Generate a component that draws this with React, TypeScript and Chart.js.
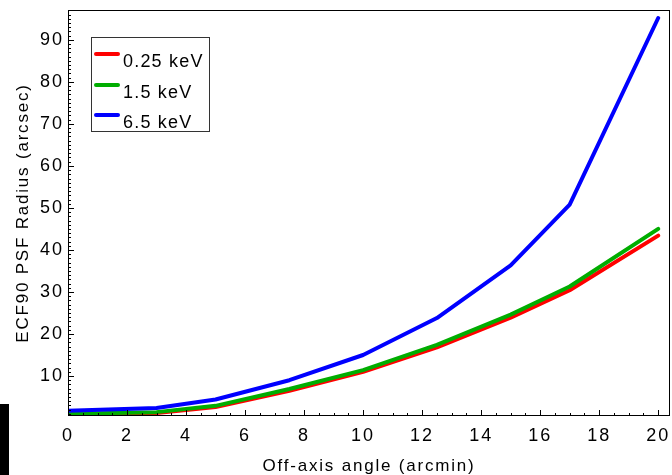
import { useEffect, useRef } from "react";
import { Chart, registerables } from "chart.js";

Chart.register(...registerables);

// ---- data ----
const offAxisAngles = [0, 3, 5, 7.5, 10, 12.5, 15, 17, 20];
const radius025keV = [0.8, 1.2, 2.6, 6.5, 11.0, 16.8, 23.9, 30.4, 43.4];
const radius15keV = [1.0, 1.4, 2.9, 6.9, 11.4, 17.4, 24.6, 31.3, 45.0];
const radius65keV = [1.7, 2.4, 4.4, 9.0, 15.0, 23.8, 36.3, 50.8, 95.2];

const seriesLabels = ["0.25 keV", "1.5 keV", "6.5 keV"];
const seriesColors = ["#ff0000", "#00ad00", "#0000ff"];

const xTickValues = [0, 2, 4, 6, 8, 10, 12, 14, 16, 18, 20];
const yTickValues = [10, 20, 30, 40, 50, 60, 70, 80, 90];

const xTitle = "Off-axis angle (arcmin)";
const yTitle = "ECF90 PSF Radius (arcsec)";

const FONT = '"Liberation Sans", Arial, sans-serif';

const zeroPad = (s: any) => {
  s.paddingTop = 0;
  s.paddingBottom = 0;
  s.paddingLeft = 0;
  s.paddingRight = 0;
};

const decorPlugin = {
  id: "decor",
  beforeDraw(chart: any) {
    (chart.ctx as any).letterSpacing = "2px";
  },
  afterDraw(chart: any) {
    const ctx = chart.ctx as CanvasRenderingContext2D & { letterSpacing: string };
    const a = chart.chartArea;
    const xs = chart.scales.x;
    const ys = chart.scales.y;
    ctx.save();
    // frame
    ctx.strokeStyle = "#000";
    ctx.lineWidth = 1;
    ctx.strokeRect(a.left + 0.5, a.top + 0.5, a.right - a.left - 1, a.bottom - a.top - 1);
    // ticks (inward)
    ctx.beginPath();
    for (let i = 0; i * 0.5 <= xs.max; i++) {
      const v = i * 0.5;
      const px = Math.round(xs.getPixelForValue(v)) + 0.5;
      const len = i % 4 === 0 ? 6 : 3;
      ctx.moveTo(px, a.bottom);
      ctx.lineTo(px, a.bottom - len);
    }
    for (let v = 1; v <= ys.max; v++) {
      const py = Math.round(ys.getPixelForValue(v)) + 0.5;
      const len = v % 10 === 0 ? 6 : 3;
      ctx.moveTo(a.left, py);
      ctx.lineTo(a.left + len, py);
    }
    ctx.stroke();
    // axis titles
    ctx.fillStyle = "#000";
    ctx.font = `17px ${FONT}`;
    ctx.letterSpacing = "1.8px";
    ctx.textAlign = "center";
    ctx.textBaseline = "middle";
    ctx.fillText(xTitle, (a.left + a.right) / 2, 466);
    ctx.save();
    ctx.translate(23, (a.top + a.bottom) / 2);
    ctx.rotate(-Math.PI / 2);
    ctx.fillText(yTitle, 0, 0);
    ctx.restore();
    // legend
    ctx.strokeStyle = "#333";
    ctx.lineWidth = 1;
    ctx.strokeRect(91.5, 37.5, 118, 94);
    const rowY = [54, 85, 115];
    ctx.font = `18px ${FONT}`;
    ctx.letterSpacing = "1.2px";
    ctx.textAlign = "left";
    ctx.textBaseline = "alphabetic";
    seriesLabels.forEach((lab, i) => {
      ctx.strokeStyle = seriesColors[i];
      ctx.lineWidth = 4;
      ctx.lineCap = "round";
      ctx.beginPath();
      ctx.moveTo(96, rowY[i]);
      ctx.lineTo(118, rowY[i]);
      ctx.stroke();
      ctx.fillStyle = "#000";
      ctx.fillText(lab, 123, rowY[i] + 13);
    });
    ctx.restore();
    ctx.letterSpacing = "0px";
  },
};

export default function App() {
  const ref = useRef<HTMLCanvasElement | null>(null);
  useEffect(() => {
    if (!ref.current) return;
    const series = [radius025keV, radius15keV, radius65keV];
    const chart = new Chart(ref.current, {
      type: "line",
      data: {
        datasets: series.map((vals, i) => ({
          label: seriesLabels[i],
          data: offAxisAngles.map((x, j) => ({ x, y: vals[j] })),
          borderColor: seriesColors[i],
          backgroundColor: seriesColors[i],
          borderWidth: 4,
          pointRadius: 0,
          tension: 0,
          borderCapStyle: "round",
          borderJoinStyle: "round",
          order: 2 - i,
        })),
      },
      options: {
        responsive: false,
        animation: false,
        events: [],
        layout: { padding: { left: 0, right: 2, top: 10, bottom: 0 } },
        plugins: { legend: { display: false }, tooltip: { enabled: false } },
        scales: {
          x: {
            type: "linear",
            min: 0,
            max: 20.4,
            grid: { display: false, drawTicks: false },
            border: { display: false },
            afterBuildTicks: (s: any) => {
              s.ticks = xTickValues.map((value) => ({ value }));
            },
            afterFit: (s: any) => {
              s.height = 59;
              zeroPad(s);
            },
            ticks: {
              autoSkip: false,
              maxRotation: 0,
              padding: 9,
              color: "#000",
              font: { family: FONT, size: 18 },
            },
          },
          y: {
            type: "linear",
            min: 0.48,
            max: 97.1,
            grid: { display: false, drawTicks: false },
            border: { display: false },
            afterBuildTicks: (s: any) => {
              s.ticks = yTickValues.map((value) => ({ value }));
            },
            afterFit: (s: any) => {
              s.width = 68;
              zeroPad(s);
            },
            ticks: {
              autoSkip: false,
              padding: 4,
              color: "#000",
              font: { family: FONT, size: 18 },
            },
          },
        },
      },
      plugins: [decorPlugin],
    });
    return () => chart.destroy();
  }, []);
  return (
    <div style={{ position: "fixed", left: 0, top: 0, width: 672, height: 475, background: "#fff", overflow: "hidden" }}>
      <canvas ref={ref} width={672} height={475} style={{ display: "block" }} />
      <div style={{ position: "absolute", left: 0, top: 404, width: 9, height: 71, background: "#000" }} />
    </div>
  );
}
